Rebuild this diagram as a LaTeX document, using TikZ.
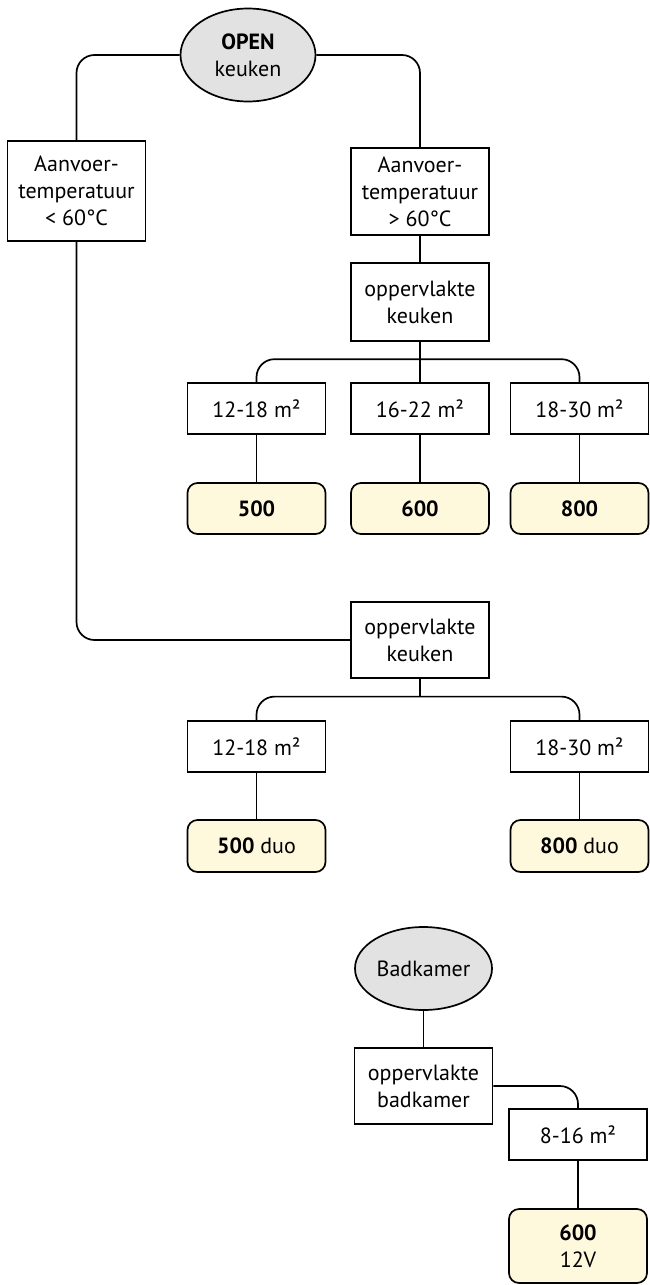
\documentclass[tikz,border=0pt]{standalone}
\usepackage{fontspec}
\setmainfont{PT Sans}
\usetikzlibrary{shapes.geometric,calc}
\definecolor{ovalgray}{HTML}{E2E2E2}
\definecolor{cream}{HTML}{FEF8DC}
\tikzset{
  every node/.style={font=\fontsize{22}{27}\selectfont, align=center, inner sep=0pt},
  oval/.style={ellipse, draw, line width=1.7pt, fill=ovalgray},
  sqbox/.style={rectangle, draw, line width=1.7pt, fill=white, minimum width=138pt},
  resbox/.style={rectangle, rounded corners=10pt, draw, line width=1.7pt, fill=cream, minimum width=138pt, minimum height=51pt},
  conn/.style={line width=1.7pt, rounded corners=18pt},
}
\begin{document}
\begin{tikzpicture}[x=1pt,y=-1pt]
\useasboundingbox (0,0) rectangle (649,1285);
% top tree
\node[oval, minimum width=135pt, minimum height=93pt] (open) at (248,55) {\textbf{OPEN}\\keuken};
\node[sqbox, minimum height=100pt] (lowA) at (76.5,191) {Aanvoer-\\temperatuur\\< 60°C};
\node[sqbox, minimum height=87pt] (highA) at (420,191.5) {Aanvoer-\\temperatuur\\> 60°C};
\node[sqbox, minimum height=78pt] (opp1) at (420,302) {oppervlakte\\keuken};
\node[sqbox, minimum height=51pt] (b1) at (256.5,408.5) {12-18 m²};
\node[sqbox, minimum height=51pt] (b2) at (420,408.5) {16-22 m²};
\node[sqbox, minimum height=51pt] (b3) at (579.5,408.5) {18-30 m²};
\node[resbox] (r1) at (256.5,508.5) {\textbf{500}};
\node[resbox] (r2) at (420,508.5) {\textbf{600}};
\node[resbox] (r3) at (579.5,508.5) {\textbf{800}};
\node[sqbox, minimum height=76pt] (opp2) at (420,640) {oppervlakte\\keuken};
\node[sqbox, minimum height=51pt] (c1) at (256.5,746.5) {12-18 m²};
\node[sqbox, minimum height=51pt] (c3) at (579.5,746.5) {18-30 m²};
\node[resbox, minimum height=52pt] (d1) at (256.5,846) {\textbf{500} duo};
\node[resbox, minimum height=52pt] (d3) at (579.5,846) {\textbf{800} duo};
% bathroom tree
\node[oval, minimum width=137pt, minimum height=83pt] (bad) at (423.5,968.5) {Badkamer};
\node[sqbox, minimum height=76pt] (oppb) at (423.5,1086) {oppervlakte\\badkamer};
\node[sqbox, minimum height=51pt] (sz) at (578,1134.5) {8-16 m²};
\node[resbox, minimum height=74pt] (v12) at (578,1246) {\textbf{600}\\12V};
% connectors
\draw[conn] (open.west) -| (lowA.north);
\draw[conn] (open.east) -| (highA.north);
\draw[conn] (highA.south) -- (opp1.north);
\coordinate (j1) at ($(opp1.south)!0.43!(b2.north)$);
\draw[conn] (opp1.south) -- (b2.north);
\draw[conn] (b1.north) |- (j1) -| (b3.north);
\draw[conn] (b1.south) -- (r1.north);
\draw[conn] (b2.south) -- (r2.north);
\draw[conn] (b3.south) -- (r3.north);
\draw[conn] (lowA.south) |- (opp2.west);
\coordinate (j2) at ($(opp2.south)!0.43!(opp2.south |- c1.north)$);
\draw[conn] (opp2.south) -- (j2);
\draw[conn] (c1.north) |- (j2) -| (c3.north);
\draw[conn] (c1.south) -- (d1.north);
\draw[conn] (c3.south) -- (d3.north);
\draw[conn] (bad.south) -- (oppb.north);
\draw[conn] (oppb.east) -| (sz.north);
\draw[conn] (sz.south) -- (v12.north);
\end{tikzpicture}
\end{document}
